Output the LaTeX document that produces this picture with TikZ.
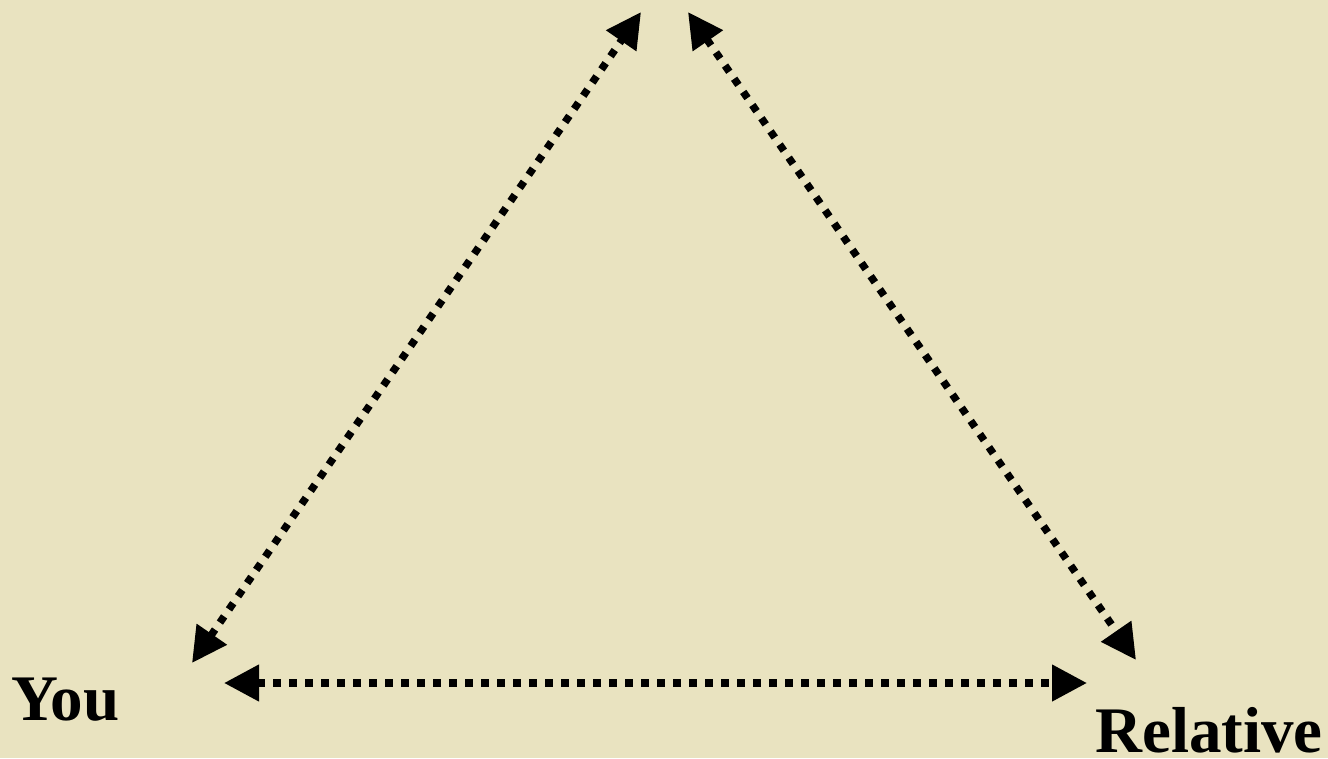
\documentclass[tikz,border=0pt]{standalone}
\usepackage{fontspec}
\setmainfont{Liberation Serif}
\usetikzlibrary{arrows.meta}
\definecolor{parchment}{RGB}{233, 227, 192}

\begin{document}
\begin{tikzpicture}[x=1pt, y=-1pt,
    every node/.style={font=\bfseries\fontsize{65}{65}\selectfont, inner sep=0pt},
    dotlink/.style={line width=7.5pt, dash pattern=on 7.5pt off 8.5pt,
      {Triangle[length=35pt, width=35pt]}-{Triangle[length=35pt, width=35pt]}}]
  % background
  \fill[parchment] (0,0) rectangle (1328,758);
  \useasboundingbox (0,0) rectangle (1328,758);
  % corners of the triangle
  \coordinate (topL) at (641,12);
  \coordinate (topR) at (688,12);
  \coordinate (youUp) at (192,663);
  \coordinate (youRight) at (224,683);
  \coordinate (relUp) at (1136,660);
  \coordinate (relLeft) at (1087,683);
  % labels
  \node[anchor=base west] (you) at (11,720) {You};
  \node[anchor=base east] (rel) at (1323,752) {Relative};
  % links
  \draw[dotlink] (youUp) -- (topL);
  \draw[dotlink] (topR) -- (relUp);
  \draw[dotlink] (youRight) -- (relLeft);
\end{tikzpicture}
\end{document}
